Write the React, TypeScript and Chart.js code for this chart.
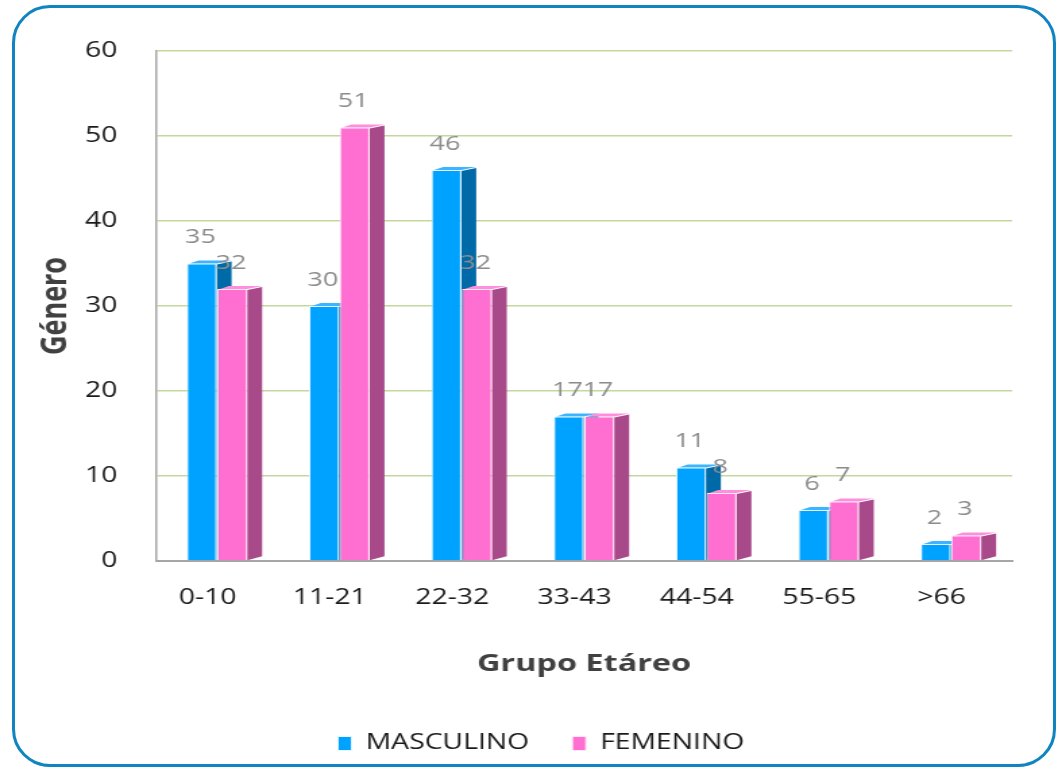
import React, { useEffect, useRef } from "react";
import { Chart, registerables } from "chart.js";

Chart.register(...registerables);

const categories = ["0-10", "11-21", "22-32", "33-43", "44-54", "55-65", ">66"];
const masculino = [35, 30, 46, 17, 11, 6, 2];
const femenino = [32, 51, 32, 17, 8, 7, 3];
const yTicks = [0, 10, 20, 30, 40, 50, 60];

const FONT = "'Open Sans', 'DejaVu Sans', sans-serif";
const CW = 784; // canvas drawing width (stretched horizontally to 1058)
const STRETCH = 1058 / CW;

const sidePlugin = {
  id: "sides",
  afterLayout(chart: any) {
    const lg = chart.legend;
    if (lg) {
      lg.left += 21;
      lg.right += 21;
    }
  },
  beforeDatasetsDraw(chart: any) {
    const ctx = chart.ctx;
    const sideColors = ["#0069a8", "#a8498a"];
    const topColors = ["#3cb4ff", "#ff8fdc"];
    ctx.save();
    [0, 1].forEach((di) => {
      const meta = chart.getDatasetMeta(di);
      meta.data.forEach((bar: any) => {
        const right = bar.x + bar.width / 2;
        const left = bar.x - bar.width / 2;
        const d = 11;
        const dy = 3;
        ctx.fillStyle = sideColors[di];
        ctx.beginPath();
        ctx.moveTo(right, bar.y + 1);
        ctx.lineTo(right + d, bar.y + 1 - dy);
        ctx.lineTo(right + d, bar.base - 4);
        ctx.lineTo(right, bar.base);
        ctx.closePath();
        ctx.fill();
        ctx.fillStyle = topColors[di];
        ctx.beginPath();
        ctx.moveTo(left + 2, bar.y);
        ctx.lineTo(left + 2 + d * 0.6, bar.y - dy);
        ctx.lineTo(right + d, bar.y - dy);
        ctx.lineTo(right, bar.y);
        ctx.closePath();
        ctx.fill();
      });
    });
    ctx.restore();
  },
  afterDatasetsDraw(chart: any) {
    const ctx = chart.ctx;
    ctx.save();
    ctx.font = `20px ${FONT}`;
    ctx.fillStyle = "#8c8c8c";
    ctx.textAlign = "center";
    ctx.textBaseline = "middle";
    [0, 1].forEach((di) => {
      const meta = chart.getDatasetMeta(di);
      const vals = chart.data.datasets[di].data;
      meta.data.forEach((bar: any, i: number) => {
        ctx.fillText(String(vals[i]), bar.x - 1, bar.y - 26);
      });
    });
    ctx.restore();
  },
};

export default function App() {
  const ref = useRef<HTMLCanvasElement>(null);
  useEffect(() => {
    if (!ref.current) return;
    const chart = new Chart(ref.current, {
      type: "bar",
      data: {
        labels: categories,
        datasets: [
          {
            label: "MASCULINO",
            data: masculino,
            backgroundColor: "#00a2ff",
            borderColor: "#e8f6ff",
            borderWidth: 1,
            categoryPercentage: 0.5,
            barPercentage: 0.98,
          },
          {
            label: "FEMENINO",
            data: femenino,
            backgroundColor: "#ff6fd2",
            borderColor: "#fde8f6",
            borderWidth: 1,
            categoryPercentage: 0.5,
            barPercentage: 0.98,
          },
        ],
      },
      plugins: [sidePlugin],
      options: {
        animation: false,
        responsive: false,
        maintainAspectRatio: false,
        devicePixelRatio: 1,
        layout: { padding: { left: 10, right: 34, top: 51, bottom: 6 } },
        plugins: {
          legend: {
            position: "bottom",
            labels: {
              font: { family: FONT, size: 21 },
              color: "#1a1a1a",
              boxWidth: 10,
              boxHeight: 14,
              padding: 32,
            },
          },
          tooltip: { enabled: false },
        },
        scales: {
          x: {
            grid: { display: false, drawTicks: false },
            border: { display: true, color: "#a6a6a6", width: 2 },
            ticks: {
              font: { family: FONT, size: 21 },
              color: "#1a1a1a",
              padding: 24,
              labelOffset: -7,
            },
            title: {
              display: true,
              text: "Grupo Etáreo",
              font: { family: FONT, size: 24, weight: "bold" },
              color: "#404040",
              padding: { top: 16, bottom: 22 },
            },
          },
          y: {
            min: 0,
            max: 60,
            afterBuildTicks: (scale: any) => {
              scale.ticks = yTicks.map((v) => ({ value: v }));
            },
            afterFit: (scale: any) => {
              scale.width = 105.5;
            },
            grid: { color: "#c4d89e", lineWidth: 1.5, drawTicks: false },
            border: { display: true, color: "#a6a6a6", width: 1.5 },
            ticks: {
              font: { family: FONT, size: 21 },
              color: "#1a1a1a",
              padding: 28.5,
            },
            title: {
              display: true,
              text: "Género",
              font: { family: FONT, size: 27, weight: "bold" },
              color: "#404040",
              padding: { top: 15, bottom: 0 },
            },
          },
        },
      },
    });
    return () => chart.destroy();
  }, []);
  return (
    <div style={{ position: "fixed", left: 0, top: 0, width: 1058, height: 770, overflow: "hidden", background: "#fff" }}>
      <div
        style={{
          position: "absolute",
          left: 12,
          top: 5,
          width: 1044,
          height: 762,
          border: "3px solid #0f84c0",
          borderRadius: 38,
          boxSizing: "border-box",
        }}
      />
      <canvas
        ref={ref}
        width={CW}
        height={770}
        style={{
          position: "absolute",
          left: 0,
          top: 0,
          width: CW,
          height: 770,
          transform: `scaleX(${STRETCH})`,
          transformOrigin: "0 0",
        }}
      />
    </div>
  );
}
